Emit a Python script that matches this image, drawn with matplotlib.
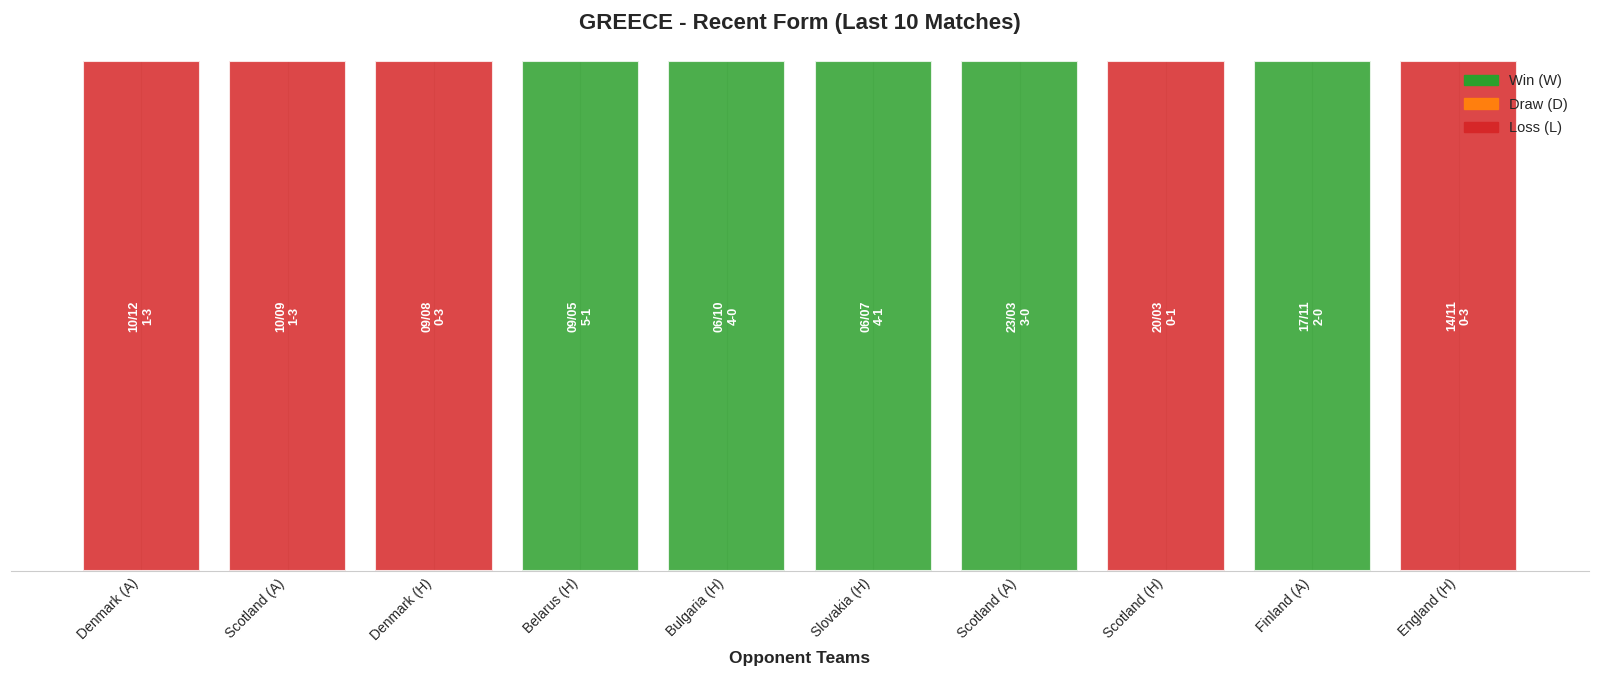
import matplotlib.pyplot as plt
import seaborn as sns
from matplotlib.patches import Patch

sns.set_style("whitegrid")
plt.rcParams['font.family'] = ['Liberation Sans', 'DejaVu Sans']

opponents = ['Denmark (A)', 'Scotland (A)', 'Denmark (H)', 'Belarus (H)', 'Bulgaria (H)',
             'Slovakia (H)', 'Scotland (A)', 'Scotland (H)', 'Finland (A)', 'England (H)']
dates = ['10/12', '10/09', '09/08', '09/05', '06/10', '06/07', '23/03', '20/03', '17/11', '14/11']
scores = ['1-3', '1-3', '0-3', '5-1', '4-0', '4-1', '3-0', '0-1', '2-0', '0-3']
results = ['L', 'L', 'L', 'W', 'W', 'W', 'W', 'L', 'W', 'L']

colors = {'W': '#2ca02c', 'D': '#ff7f0e', 'L': '#d62728'}

fig, ax = plt.subplots(figsize=(16, 6.79), dpi=100)
fig.subplots_adjust(left=11/1600, right=1589/1600, bottom=1-571/679, top=1-61/679)

x = list(range(len(opponents)))
bars = ax.bar(x, [1]*len(x), width=0.8, color=[colors[r] for r in results],
              alpha=0.85, edgecolor='white', linewidth=1.5)

for i in x:
    ax.text(i, 0.5, dates[i] + '\n' + scores[i], rotation=90, ha='center', va='center',
            color='white', fontweight='bold', fontsize=9)

ax.set_ylim(0, 1)
ax.set_xticks(x)
ax.set_xticklabels(opponents, rotation=45, ha='right', fontsize=10)
ax.tick_params(axis='x', pad=0.5)
ax.set_yticks([])
ax.set_xlabel('Opponent Teams', fontsize=12.5, fontweight='bold', labelpad=6)
ax.set_title('GREECE - Recent Form (Last 10 Matches)', fontsize=16, fontweight='bold', pad=23)
ax.grid(axis='x', alpha=0.6)
ax.grid(axis='y', visible=False)
for s in ['top', 'right', 'left']:
    ax.spines[s].set_visible(False)
ax.spines['bottom'].set_color('#cccccc')

handles = [Patch(color=colors['W'], label='Win (W)'),
           Patch(color=colors['D'], label='Draw (D)'),
           Patch(color=colors['L'], label='Loss (L)')]
ax.legend(handles=handles, loc='upper right', frameon=False, fontsize=10.5,
          bbox_to_anchor=(0.995, 1.0), handlelength=2.3, labelspacing=0.65)

fig.savefig('out.png', dpi=100)
